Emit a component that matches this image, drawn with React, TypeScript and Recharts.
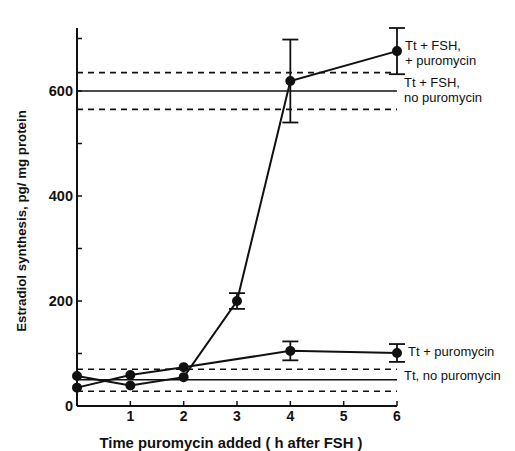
import { ComposedChart, Line, XAxis, YAxis, ReferenceLine, ErrorBar, LabelList } from 'recharts';

// Tt + FSH, + puromycin
const fshHours = [0, 1, 2, 3, 4, 6];
const fshPuromycin = [57, 39, 55, 200, 619, 676];
const fshPuromycinErr = [0, 0, 0, 15, 79, 44];

// Tt + puromycin
const ttHours = [0, 1, 2, 4, 6];
const ttPuromycin = [35, 59, 74, 105, 101];
const ttPuromycinErr = [0, 0, 0, 18, 17];

// controls without puromycin: [low, mean, high]
const fshNoPuromycin = [565, 600, 635];
const ttNoPuromycin = [28, 50, 70];

const xTicks = [0, 1, 2, 3, 4, 5, 6];
const yTicks = [0, 100, 200, 300, 400, 500, 600, 700];
const yLabelled = [0, 200, 400, 600];

const fshData = fshHours.map((h, i) => ({ h, v: fshPuromycin[i], err: fshPuromycinErr[i] }));
const ttData = ttHours.map((h, i) => ({ h, v: ttPuromycin[i], err: ttPuromycinErr[i] }));

const ink = '#111';
const font = '"Liberation Sans", Arial, sans-serif';

const YTick = (props: any) => {
  const { x, y, payload } = props;
  const ax = x + 4;
  return (
    <g>
      <line x1={ax} x2={ax + 5} y1={y} y2={y} stroke={ink} strokeWidth={1.5} />
      {yLabelled.includes(payload.value) && (
        <text x={x} y={y} textAnchor="end" dominantBaseline="central" fontFamily={font} fontSize={14.5} fontWeight="bold" fill={ink}>
          {payload.value}
        </text>
      )}
    </g>
  );
};

const XTick = (props: any) => {
  const { x, y, payload } = props;
  const ay = y - 4;
  return (
    <g>
      <line x1={x} x2={x} y1={ay} y2={ay - 5} stroke={ink} strokeWidth={1.5} />
      {payload.value > 0 && (
        <text x={x} y={y + 6} textAnchor="middle" dominantBaseline="central" fontFamily={font} fontSize={14} fontWeight="bold" fill={ink}>
          {payload.value}
        </text>
      )}
    </g>
  );
};

const Lines = ({ x, y, lines, dy }: { x: number; y: number; lines: string[]; dy: number }) => (
  <text x={x} y={y + dy} fontFamily={font} fontSize={13} fill={ink} dominantBaseline="central">
    {lines.map((t, i) => (
      <tspan key={i} x={x} dy={i === 0 ? 0 : 15}>{t}</tspan>
    ))}
  </text>
);

const lastLabel = (lines: string[], dx: number, dy: number, count: number) => (p: any) =>
  p.index === count - 1 ? <Lines x={p.x + dx} y={p.y} lines={lines} dy={dy} /> : null;

const refLabel = (lines: string[], dx: number, dy: number) => (p: any) => {
  const vb = p.viewBox;
  return <Lines x={vb.x + vb.width + dx} y={vb.y} lines={lines} dy={dy} />;
};

const XTitle = (p: any) => {
  const vb = p.viewBox;
  return (
    <text x={vb.x + vb.width / 2 - 6} y={vb.y + vb.height - 8} textAnchor="middle" fontFamily={font} fontSize={14.8} fontWeight="bold" fill={ink} dominantBaseline="central">
      Time puromycin added ( h after FSH )
    </text>
  );
};

const YTitle = (p: any) => {
  const vb = p.viewBox;
  const cx = 13;
  const cy = vb.y + vb.height / 2 + 4;
  return (
    <text x={cx} y={cy} transform={`rotate(-90 ${cx} ${cy})`} textAnchor="middle" fontFamily={font} fontSize={13.3} fontWeight="bold" fill={ink} dominantBaseline="central">
      Estradiol synthesis, pg/ mg protein
    </text>
  );
};

const bands = [
  { vals: fshNoPuromycin, name: ['Tt + FSH,', 'no puromycin'], dy: -9 },
  { vals: ttNoPuromycin, name: ['Tt, no puromycin'], dy: -5 },
];

export default function App() {
  return (
    <ComposedChart width={507} height={443} margin={{ top: 20, right: 118, bottom: 0, left: 29 }}>
      <XAxis
        type="number"
        dataKey="h"
        domain={[0, 6]}
        ticks={xTicks}
        height={45}
        tickSize={0}
        tickMargin={4}
        tickLine={false}
        tick={<XTick />}
        axisLine={{ stroke: ink, strokeWidth: 2 }}
        label={{ content: XTitle }}
      />
      <YAxis
        type="number"
        domain={[0, 700]}
        ticks={yTicks}
        width={40}
        tickSize={0}
        tickMargin={4}
        tickLine={false}
        tick={<YTick />}
        axisLine={{ stroke: ink, strokeWidth: 2 }}
        label={{ content: YTitle }}
      />
      {bands.map((b, i) => [
        <ReferenceLine key={`lo${i}`} y={b.vals[0]} stroke={ink} strokeWidth={1.6} strokeDasharray="6 5" />,
        <ReferenceLine key={`hi${i}`} y={b.vals[2]} stroke={ink} strokeWidth={1.6} strokeDasharray="6 5" />,
        <ReferenceLine key={`m${i}`} y={b.vals[1]} stroke={ink} strokeWidth={1.6} label={{ content: refLabel(b.name, 7, b.dy) }} />,
      ])}
      <Line
        data={fshData}
        dataKey="v"
        type="linear"
        stroke={ink}
        strokeWidth={2}
        dot={{ r: 4, fill: ink, stroke: ink }}
        isAnimationActive={false}
      >
        <ErrorBar dataKey="err" width={8} stroke={ink} strokeWidth={1.8} direction="y" />
        <LabelList content={lastLabel(['Tt + FSH,', '+ puromycin'], 8, -6, fshData.length)} />
      </Line>
      <Line
        data={ttData}
        dataKey="v"
        type="linear"
        stroke={ink}
        strokeWidth={2}
        dot={{ r: 4, fill: ink, stroke: ink }}
        isAnimationActive={false}
      >
        <ErrorBar dataKey="err" width={8} stroke={ink} strokeWidth={1.8} direction="y" />
        <LabelList content={lastLabel(['Tt + puromycin'], 11, -2, ttData.length)} />
      </Line>
    </ComposedChart>
  );
}
